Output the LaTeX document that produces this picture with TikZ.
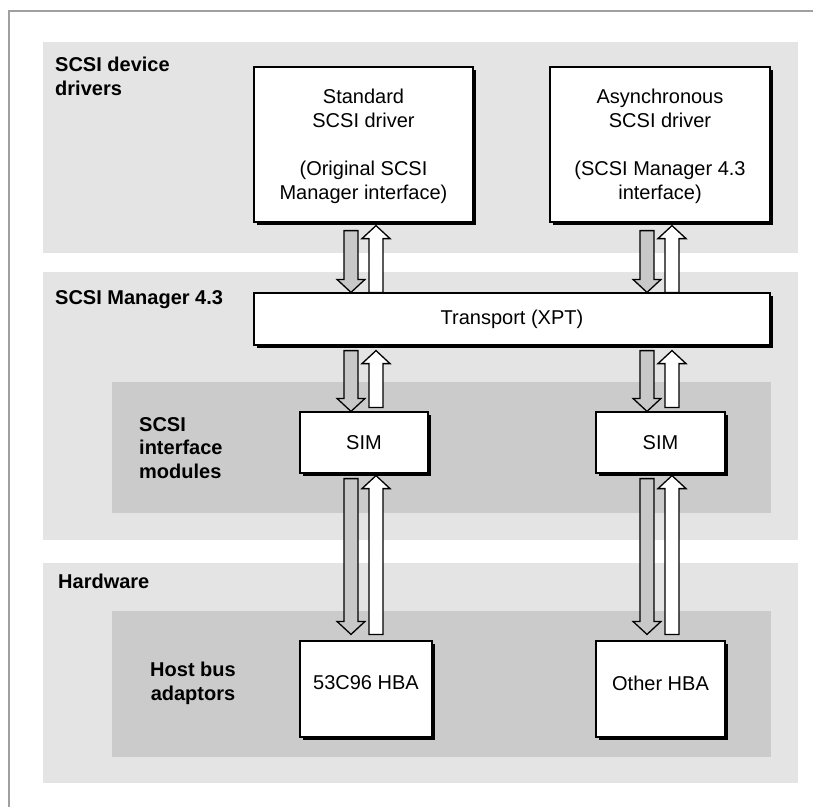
\documentclass[tikz,border=0pt]{standalone}
\usepackage{fontspec}
\setmainfont{Liberation Sans}
\usetikzlibrary{calc,shadows}
\definecolor{bandlight}{HTML}{E4E4E4}
\definecolor{banddark}{HTML}{CBCBCB}
\definecolor{framegray}{HTML}{A0A0A0}
\definecolor{arrowgray}{HTML}{C8C8C8}
\tikzset{
  band/.style={fill=bandlight, draw=none},
  innerband/.style={fill=banddark, draw=none},
  comp/.style={draw=black, line width=1.2pt, fill=white, align=center, inner sep=0pt,
    font=\fontsize{20}{24}\selectfont,
    drop shadow={shadow xshift=2.5pt, shadow yshift=-2.5pt, fill=black, opacity=1}},
  layerlabel/.style={font=\bfseries\fontsize{20}{23.5}\selectfont, inner sep=0pt, align=left},
  fat/.style={draw=black, line width=1.3pt, line join=miter},
}
\newcommand{\fatarrow}[3]{%
  \draw[fat, fill=#3] let \p1=#1, \p2=#2, \n1={sign(\y2-\y1)} in
    ({\x1-7pt},\y1) -- ({\x1+7pt},\y1) -- ({\x1+7pt},{\y2-\n1*13pt}) --
    ({\x1+14pt},{\y2-\n1*13pt}) -- (\x1,\y2) -- ({\x1-14pt},{\y2-\n1*13pt}) --
    ({\x1-7pt},{\y2-\n1*13pt}) -- cycle;
}
\begin{document}
\begin{tikzpicture}[x=1pt,y=-1pt]
\useasboundingbox (0,0) rectangle (813,807);
\fill[white] (0,0) rectangle (813,807);
% frame
\draw[framegray, line width=1.5pt] (9,807) -- (9,11) -- (813,11);
% bands
\fill[band] (43,42) rectangle (798,253);
\fill[band] (43,272) rectangle (798,540);
\fill[band] (43,563) rectangle (798,783);
\fill[innerband] (112,382) rectangle (771,513);
\fill[innerband] (112,611) rectangle (771,757);
% layer labels (base anchor = baseline of last line)
\node[layerlabel, anchor=base west] (lbldrv) at (55,95) {SCSI device\\drivers};
\node[layerlabel, anchor=base west] (lblmgr) at (55,304) {SCSI Manager 4.3};
\node[layerlabel, anchor=base west] (lblsim) at (139,478) {SCSI\\interface\\modules};
\node[layerlabel, anchor=base west] (lblhw) at (58,588) {Hardware};
\node[layerlabel, align=center, anchor=base] (lblhba) at (193,700) {Host bus\\adaptors};
% components
\node[comp, minimum width=219pt, minimum height=155pt, text depth=0pt] (std) at (363.5,144.5)
  {Standard\\SCSI driver\\[24pt](Original SCSI\\Manager interface)};
\node[comp, minimum width=220pt, minimum height=155pt, text depth=0pt] (asy) at (660,144.5)
  {Asynchronous\\SCSI driver\\[24pt](SCSI Manager 4.3\\interface)};
\node[comp, minimum width=516pt, minimum height=52pt] (xpt) at (512,319) {Transport (XPT)};
\node[comp, minimum width=128pt, minimum height=61pt] (sim1) at (364,442.5) {SIM};
\node[comp, minimum width=129pt, minimum height=61pt] (sim2) at (660.5,442.5) {SIM};
\node[comp, minimum width=132pt, minimum height=96pt, text depth=12pt] (hba1) at (366,689) {53C96 HBA};
\node[comp, minimum width=129pt, minimum height=96pt, text depth=12pt] (hba2) at (660.5,689) {Other HBA};
% arrow columns
\coordinate (colLd) at (351,0);
\coordinate (colLu) at (376,0);
\coordinate (colRd) at (647,0);
\coordinate (colRu) at (672,0);
% drivers <-> transport
\fatarrow{($(std.south -| colLd)+(0,8)$)}{(xpt.north -| colLd)}{arrowgray}
\fatarrow{(xpt.north -| colLu)}{($(std.south -| colLu)+(0,3)$)}{white}
\fatarrow{($(asy.south -| colRd)+(0,8)$)}{(xpt.north -| colRd)}{arrowgray}
\fatarrow{(xpt.north -| colRu)}{($(asy.south -| colRu)+(0,3)$)}{white}
% transport <-> SIM
\fatarrow{($(xpt.south -| colLd)+(0,5)$)}{(sim1.north -| colLd)}{arrowgray}
\fatarrow{($(sim1.north -| colLu)+(0,-4)$)}{($(xpt.south -| colLu)+(0,5)$)}{white}
\fatarrow{($(xpt.south -| colRd)+(0,5)$)}{(sim2.north -| colRd)}{arrowgray}
\fatarrow{($(sim2.north -| colRu)+(0,-4)$)}{($(xpt.south -| colRu)+(0,5)$)}{white}
% SIM <-> HBA
\fatarrow{($(sim1.south -| colLd)+(0,5)$)}{($(hba1.north -| colLd)+(0,-6)$)}{arrowgray}
\fatarrow{($(hba1.north -| colLu)+(0,-6)$)}{($(sim1.south -| colLu)+(0,2)$)}{white}
\fatarrow{($(sim2.south -| colRd)+(0,5)$)}{($(hba2.north -| colRd)+(0,-6)$)}{arrowgray}
\fatarrow{($(hba2.north -| colRu)+(0,-6)$)}{($(sim2.south -| colRu)+(0,2)$)}{white}
\end{tikzpicture}
\end{document}
